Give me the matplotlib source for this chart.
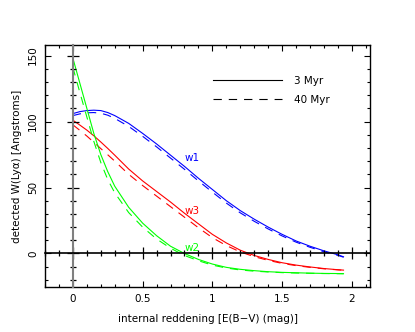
import numpy as np
import matplotlib
matplotlib.use('Agg')
import matplotlib.pyplot as plt
from matplotlib.lines import Line2D
from matplotlib.ticker import MultipleLocator, FormatStrFormatter

plt.rcParams['font.family'] = ['DejaVu Sans']
plt.rcParams['lines.scale_dashes'] = False

# E(B-V) grid
ebv = [0, 0.05, 0.1, 0.15, 0.2, 0.25, 0.3, 0.4, 0.5, 0.6, 0.7, 0.8, 0.9,
       1.0, 1.1, 1.2, 1.3, 1.4, 1.5, 1.6, 1.7, 1.8, 1.9, 1.94]

# w1 (blue)
w1_3myr = [106, 107.5, 108.3, 108.6, 108.3, 106.8, 104.5, 98.6, 91, 83, 74.5, 66, 57,
           48.5, 40, 32.5, 26, 20, 14.5, 9.5, 5.5, 2, -1, -2.5]
w1_40myr = [104.5, 105.8, 106.6, 106.8, 106.3, 104.8, 102.4, 96.3, 88.8, 80.8, 72.3, 63.8, 55,
            46.5, 38.2, 30.8, 24.4, 18.6, 13.3, 8.6, 4.7, 1.3, -1.4, -2.8]
# w3 (red)
w3_3myr = [101, 97.3, 93.5, 89.2, 84.5, 79.6, 74.5, 64, 55, 47, 39, 30.5, 22.5,
           14.5, 8, 2.5, -1.5, -4.5, -7, -8.8, -10.2, -11.4, -12.3, -12.6]
w3_40myr = [97.5, 93.3, 89, 84.3, 79.5, 74.8, 70, 60, 51.5, 43.5, 35.5, 27.5, 19.5,
            12, 6, 1.2, -2.4, -5.2, -7.5, -9.2, -10.5, -11.6, -12.4, -12.7]
# w2 (green)
w2_3myr = [148, 129, 110, 91, 75, 62, 51, 35, 23, 13.5, 5.5, 0, -4.5,
           -8, -10.5, -12, -13, -13.8, -14.3, -14.6, -14.9, -15.1, -15.2, -15.3]
w2_40myr = [141, 122, 103.5, 85, 69, 56, 46, 31, 20, 11, 4, -1.5, -5.5,
            -8.8, -11, -12.5, -13.4, -14, -14.5, -14.8, -15, -15.2, -15.3, -15.3]

series = [
    ('w1', 'blue', w1_3myr, w1_40myr, 72),
    ('w3', 'red', w3_3myr, w3_40myr, 32),
    ('w2', '#00ff00', w2_3myr, w2_40myr, 4.5),
]

fig = plt.figure(figsize=(4.15, 3.32), dpi=100)
rect = [0.1084, 0.1355, 0.7832, 0.729]
ax = fig.add_axes(rect)
xlim = (-0.2, 2.13)
ylim = (-25.4, 158)

dash = (0, (6, 5))
for name, col, y3, y40, ylab in series:
    ax.plot(ebv, y3, color=col, lw=0.8)
    ax.plot(ebv, y40, color=col, lw=0.8, linestyle=dash)
    ax.text(0.853, ylab, name, color=col, fontsize=7.5, ha='center', va='center')

ax.set_xlim(xlim)
ax.set_ylim(ylim)
ax.xaxis.set_major_locator(MultipleLocator(0.5))
ax.xaxis.set_minor_locator(MultipleLocator(0.1))
ax.xaxis.set_major_formatter(FormatStrFormatter('%g'))
ax.yaxis.set_major_locator(MultipleLocator(50))
ax.yaxis.set_minor_locator(MultipleLocator(10))
ax.tick_params(which='both', direction='in', top=True, right=True, labelsize=7.5,
               width=0.8)
ax.tick_params(which='major', length=4)
ax.tick_params(which='minor', length=2.5)
ax.tick_params(axis='x', pad=5)
ax.tick_params(axis='y', pad=5)
for lab in ax.get_yticklabels():
    lab.set_rotation(90)
    lab.set_va('center')
for sp in ax.spines.values():
    sp.set_linewidth(1.0)

ax.set_xlabel('internal reddening [E(B\u2212V) (mag)]', fontsize=7.5, labelpad=7)
ax.set_ylabel('detected W(Ly\u03b1) [Angstroms]', fontsize=7.5, labelpad=4)

# zero axes with crossing ticks
ax0 = fig.add_axes(rect, facecolor='none')
ax0.set_xlim(xlim)
ax0.set_ylim(ylim)
ax0.spines['left'].set_position(('data', 0))
ax0.spines['bottom'].set_position(('data', 0))
ax0.spines['left'].set_color('gray')
ax0.spines['left'].set_linewidth(1.5)
ax0.spines['bottom'].set_linewidth(1.2)
ax0.spines['right'].set_visible(False)
ax0.spines['top'].set_visible(False)
ax0.xaxis.set_major_locator(MultipleLocator(0.5))
ax0.xaxis.set_minor_locator(MultipleLocator(0.1))
ax0.yaxis.set_major_locator(MultipleLocator(50))
ax0.yaxis.set_minor_locator(MultipleLocator(10))
ax0.tick_params(which='both', direction='inout', labelbottom=False, labelleft=False,
                width=0.9, color='black')
ax0.tick_params(which='major', length=8)
ax0.tick_params(which='minor', length=4.5)

handles = [Line2D([], [], color='black', lw=0.8),
           Line2D([], [], color='black', lw=0.8, linestyle=dash)]
ax.legend(handles, ['3 Myr', '40 Myr'], loc='upper left', bbox_to_anchor=(0.516, 0.873),
          frameon=False, fontsize=7.5, handlelength=6.7, handletextpad=1.1,
          labelspacing=0.85, borderpad=0, borderaxespad=0)

fig.savefig('out.png', dpi=100)
